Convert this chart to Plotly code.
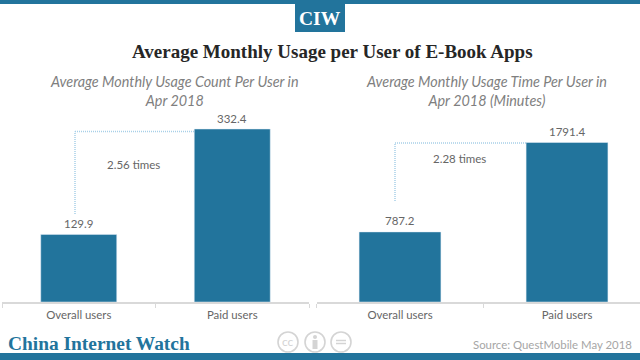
import plotly.graph_objects as go

categories = ["Overall users", "Paid users"]
count_values = [129.9, 332.4]
time_values = [787.2, 1791.4]
count_labels = ["129.9", "332.4"]
time_labels = ["787.2", "1791.4"]
title_text = "<b>Average Monthly Usage per User of E-Book Apps</b>"
sub_left = "<i>Average Monthly Usage Count Per User in<br>Apr 2018</i>"
sub_right = "<i>Average Monthly Usage Time Per User in<br>Apr 2018 (Minutes)</i>"

W, H = 640, 360
BLUE = "#22749c"
GREY = "#666666"
SANS = "Lato, Open Sans, sans-serif"
SERIF = "Liberation Serif, serif"


def X(p):
    return p / W


def Y(p):
    return 1 - p / H


fig = go.Figure()
fig.add_trace(go.Bar(x=categories, y=count_values, width=0.495,
                     marker=dict(color=BLUE), xaxis="x", yaxis="y"))
fig.add_trace(go.Bar(x=categories, y=time_values, width=0.49,
                     marker=dict(color=BLUE), xaxis="x2", yaxis="y2"))

axis_x = dict(type="category", tickson="boundaries", ticks="outside", ticklen=4,
              tickcolor="#d9d9d9", linecolor="#d9d9d9", showline=True, linewidth=1.5,
              showgrid=False, zeroline=False, ticklabelstandoff=2,
              tickfont=dict(family=SANS, size=11.4, color=GREY))
axis_y = dict(visible=False, showgrid=False, zeroline=False)

shapes = [
    dict(type="rect", xref="paper", yref="paper", x0=0, x1=1, y0=Y(0), y1=Y(4),
         fillcolor=BLUE, line_width=0),
    dict(type="rect", xref="paper", yref="paper", x0=0, x1=1, y0=Y(353), y1=Y(360),
         fillcolor=BLUE, line_width=0),
    dict(type="rect", xref="paper", yref="paper", x0=X(295), x1=X(345), y0=Y(4), y1=Y(32),
         fillcolor=BLUE, line_width=0),
]
dot = dict(color="#a8d0e8", width=1.5, dash="1px,1px")
for path in ([(75, 214), (75, 131.5), (195, 131.5)], [(395, 201), (395, 143), (526, 143)]):
    for (a, b), (c, d) in zip(path[:-1], path[1:]):
        shapes.append(dict(type="line", xref="paper", yref="paper", x0=X(a), y0=Y(b),
                           x1=X(c), y1=Y(d), line=dot))
# licence badges
for cx in (288, 315, 341):
    shapes.append(dict(type="circle", xref="paper", yref="paper", x0=X(cx - 10), x1=X(cx + 10),
                       y0=Y(352), y1=Y(332), line=dict(color="#d4d4d4", width=1.6),
                       fillcolor="white"))
shapes.append(dict(type="circle", xref="paper", yref="paper", x0=X(313), x1=X(317),
                   y0=Y(339), y1=Y(335), fillcolor="#d4d4d4", line_width=0))
shapes.append(dict(type="rect", xref="paper", yref="paper", x0=X(312.5), x1=X(317.5),
                   y0=Y(349), y1=Y(340), fillcolor="#d4d4d4", line_width=0))
for yy in (340.5, 343.5):
    shapes.append(dict(type="line", xref="paper", yref="paper", x0=X(336), x1=X(346),
                       y0=Y(yy), y1=Y(yy), line=dict(color="#d4d4d4", width=1.5)))


def note(text, x, y, size, color, family=SANS, anchor="center"):
    return dict(text=text, x=X(x), y=Y(y), xref="paper", yref="paper", showarrow=False,
                xanchor=anchor, yanchor="middle", align="center",
                font=dict(family=family, size=size, color=color))


annotations = [
    note("<b>CIW</b>", 320, 18, 19.5, "white", SERIF),
    note(title_text, 332, 52, 19, "#262626", SERIF),
    note(sub_left, 174, 91, 14.4, "#7f7f7f"),
    note(sub_right, 486, 91, 14.4, "#7f7f7f"),
    note("2.56 times", 133, 165, 11.5, GREY),
    note("2.28 times", 459, 158, 11.5, GREY),
    note("<b>China Internet Watch</b>", 6, 343, 19.4, BLUE, SERIF, "left"),
    note("Source: QuestMobile May 2018", 634, 344, 11.4, "#a6a6a6", SANS, "right"),
    note("cc", 288, 341, 12, "#d4d4d4"),
]

# value labels sit a fixed distance above their bars, placed by data coordinates
for xa, ya, vals, labels in (("x", "y", count_values, count_labels),
                             ("x2", "y2", time_values, time_labels)):
    for cat, val, lab in zip(categories, vals, labels):
        annotations.append(dict(text=lab, x=cat, y=val, xref=xa, yref=ya, showarrow=False,
                                yanchor="middle", yshift=11,
                                font=dict(family=SANS, size=11.5, color=GREY)))

fig.update_layout(
    width=W, height=H, autosize=False, margin=dict(l=0, r=0, t=0, b=0),
    paper_bgcolor="white", plot_bgcolor="white", showlegend=False,
    shapes=shapes, annotations=annotations,
    xaxis=dict(axis_x, domain=[X(2), X(309)], range=[-0.5, 1.5], anchor="y"),
    yaxis=dict(axis_y, domain=[Y(302), Y(60)], range=[0, 465], anchor="x"),
    xaxis2=dict(axis_x, domain=[X(316.5), 1], range=[-0.5, 1.437], anchor="y2"),
    yaxis2=dict(axis_y, domain=[Y(302), Y(60)], range=[0, 2718], anchor="x2"),
)

fig.write_html("out.html", config=dict(displayModeBar=False),
               post_script="document.body.style.margin='0';")
